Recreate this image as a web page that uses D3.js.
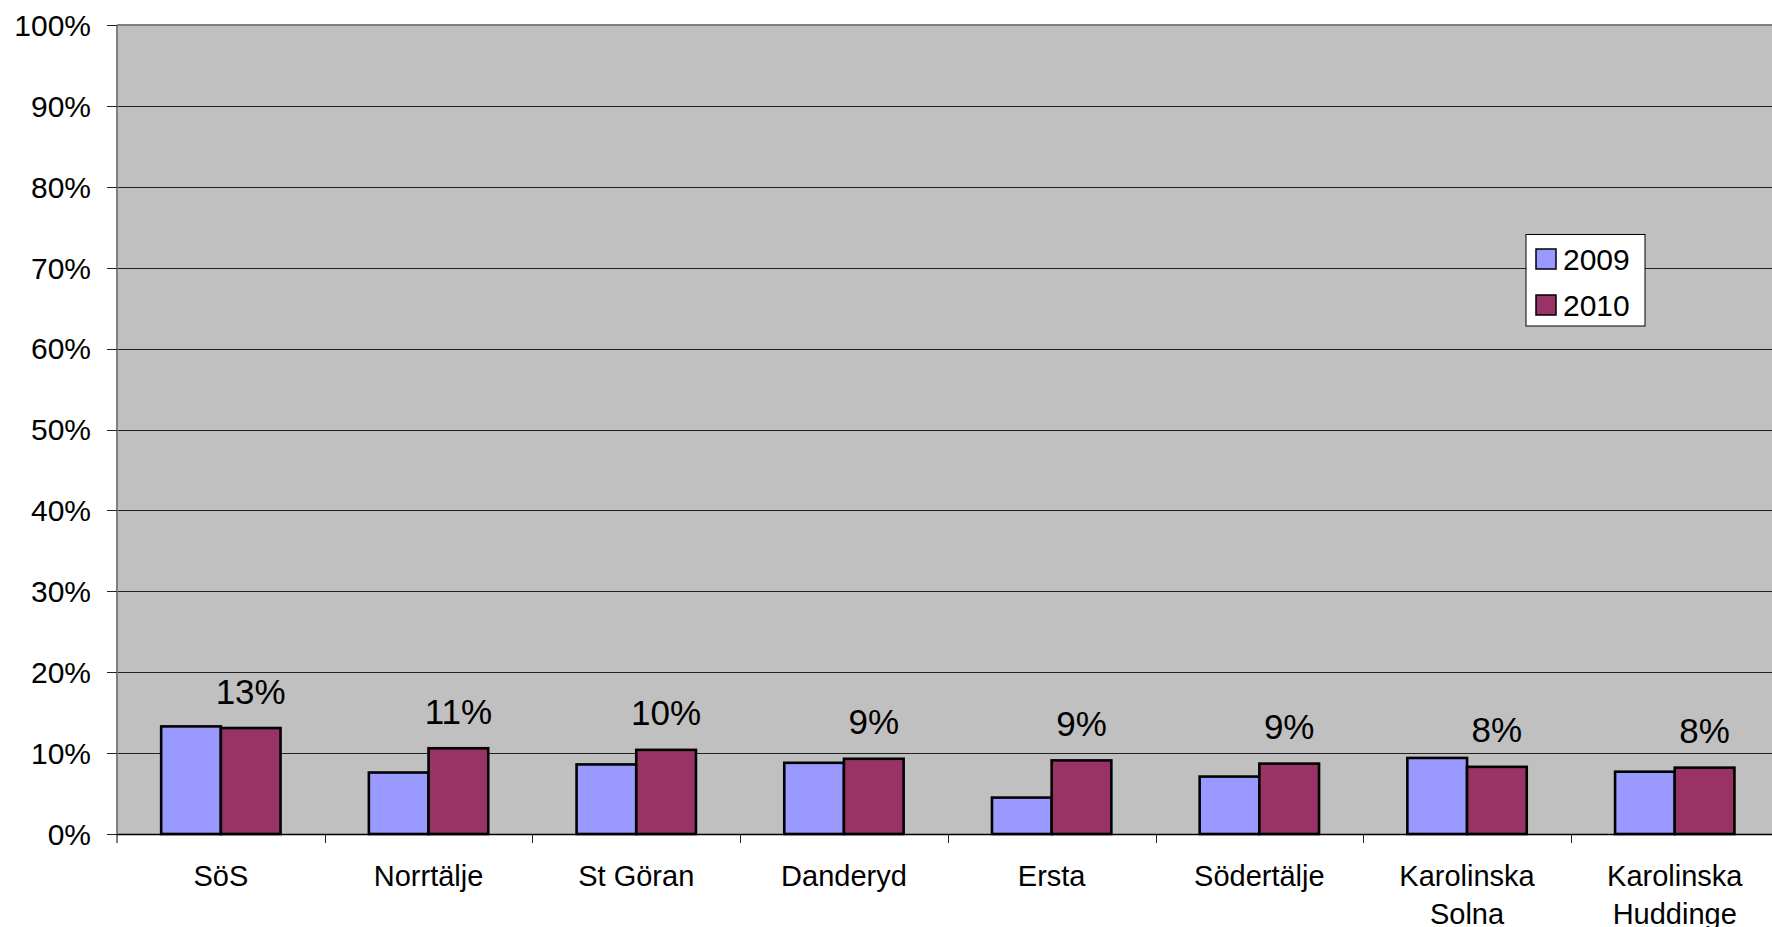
<!DOCTYPE html>
<html>
  <head>
    <meta charset='utf-8' />
    <title>Grouped bar chart</title>
    <script src="https://d3js.org/d3.v7.min.js"></script>
    <style>
body {
  margin: 0;
  background: #fff;
  font-family: Arial, "Liberation Sans", sans-serif;
}
.tick-label { font-size: 30px; fill: #000; }
.cat-label { font-size: 29px; fill: #000; }
.value-label { font-size: 35px; fill: #000; }
.legend-label { font-size: 30px; fill: #000; }
    </style>
  </head>
  <body>
    <div id="graphic"></div>
    <script>
      // chart data
      const categories = ["SöS", "Norrtälje", "St Göran", "Danderyd", "Ersta", "Södertälje", "Karolinska Solna", "Karolinska Huddinge"];
      const series = ["2009", "2010"];
      const values2009 = [0.133, 0.076, 0.086, 0.088, 0.045, 0.071, 0.094, 0.077];
      const values2010 = [0.131, 0.106, 0.104, 0.093, 0.091, 0.087, 0.083, 0.082];
      const valueLabels = ["13%", "11%", "10%", "9%", "9%", "9%", "8%", "8%"];
      const yTicks = [0, 0.1, 0.2, 0.3, 0.4, 0.5, 0.6, 0.7, 0.8, 0.9, 1];
      const colors = ["#9999FF", "#993366"];

      const W = 1772, H = 927;
      const plotLeft = 117, plotTop = 25, plotBottom = 834, bandW = 207.7;
      const plotRight = plotLeft + bandW * categories.length;

      const svg = d3.select("#graphic").append("svg")
        .attr("width", W)
        .attr("height", H);

      const x = d3.scaleBand()
        .domain(categories)
        .range([plotLeft, plotRight])
        .padding(0);

      const xs = d3.scaleBand()
        .domain(series)
        .range([0, x.bandwidth()])
        .paddingInner(0)
        .paddingOuter(0.74);

      const y = d3.scaleLinear()
        .domain([0, 1])
        .range([plotBottom, plotTop]);

      // plot area
      svg.append("rect")
        .attr("x", plotLeft)
        .attr("y", plotTop)
        .attr("width", plotRight - plotLeft)
        .attr("height", plotBottom - plotTop)
        .attr("fill", "#C0C0C0");

      // gridlines
      svg.append("g")
        .selectAll("line")
        .data(yTicks.slice(1, -1))
        .join("line")
        .attr("x1", plotLeft)
        .attr("x2", plotRight)
        .attr("y1", d => Math.round(y(d)) + 0.5)
        .attr("y2", d => Math.round(y(d)) + 0.5)
        .attr("stroke", "#222")
        .attr("stroke-width", 1);

      // plot border (top + left grey)
      svg.append("line")
        .attr("x1", plotLeft).attr("x2", plotRight)
        .attr("y1", y(1)).attr("y2", y(1))
        .attr("stroke", "#808080").attr("stroke-width", 2);
      svg.append("line")
        .attr("x1", plotLeft).attr("x2", plotLeft)
        .attr("y1", y(1)).attr("y2", plotBottom + 9)
        .attr("stroke", "#808080").attr("stroke-width", 2);

      // y axis ticks and labels
      const yAxis = svg.append("g");
      yAxis.selectAll("line")
        .data(yTicks)
        .join("line")
        .attr("x1", plotLeft - 10)
        .attr("x2", plotLeft)
        .attr("y1", d => Math.round(y(d)) + 0.5)
        .attr("y2", d => Math.round(y(d)) + 0.5)
        .attr("stroke", "#222");
      yAxis.selectAll("text")
        .data(yTicks)
        .join("text")
        .attr("class", "tick-label")
        .attr("x", 91)
        .attr("y", d => y(d))
        .attr("dy", "0.36em")
        .attr("text-anchor", "end")
        .text(d => d3.format(".0%")(d));

      // bars
      const bars = svg.append("g")
        .selectAll("g")
        .data(categories)
        .join("g")
        .attr("transform", d => "translate(" + x(d) + ",0)");

      bars.selectAll("rect")
        .data((d, i) => [values2009[i], values2010[i]].map((v, j) => ({ s: series[j], v: v, j: j })))
        .join("rect")
        .attr("x", d => xs(d.s))
        .attr("y", d => y(d.v))
        .attr("width", xs.bandwidth())
        .attr("height", d => plotBottom - y(d.v))
        .attr("fill", d => colors[d.j])
        .attr("stroke", "#000")
        .attr("stroke-width", 2.6);

      // x axis line + ticks
      svg.append("line")
        .attr("x1", plotLeft).attr("x2", plotRight)
        .attr("y1", plotBottom + 0.5).attr("y2", plotBottom + 0.5)
        .attr("stroke", "#000").attr("stroke-width", 1.5);
      svg.append("g")
        .selectAll("line")
        .data(categories.slice(1))
        .join("line")
        .attr("x1", d => Math.round(x(d)) + 0.5)
        .attr("x2", d => Math.round(x(d)) + 0.5)
        .attr("y1", plotBottom)
        .attr("y2", plotBottom + 9)
        .attr("stroke", "#222");

      // category labels (Karolinska names wrap onto two lines)
      svg.append("g")
        .selectAll("text")
        .data(categories)
        .join("text")
        .attr("class", "cat-label")
        .attr("text-anchor", "middle")
        .attr("y", 886)
        .each(function(d) {
          const parts = d.startsWith("Karolinska") ? ["Karolinska", d.slice(11)] : [d];
          const cx = x(d) + x.bandwidth() / 2;
          d3.select(this).selectAll("tspan")
            .data(parts)
            .join("tspan")
            .attr("x", cx)
            .attr("dy", (p, k) => k === 0 ? 0 : 38)
            .text(p => p);
        });

      // value labels over the 2010 bars
      svg.append("g")
        .selectAll("text")
        .data(categories)
        .join("text")
        .attr("class", "value-label")
        .attr("text-anchor", "middle")
        .attr("x", d => x(d) + xs("2010") + xs.bandwidth() / 2)
        .attr("y", (d, i) => y(values2010[i]) - 24.5)
        .text((d, i) => valueLabels[i]);

      // legend
      const legend = svg.append("g");
      legend.append("rect")
        .attr("x", 1526)
        .attr("y", 234.5)
        .attr("width", 119)
        .attr("height", 91.5)
        .attr("fill", "#fff")
        .attr("stroke", "#000")
        .attr("stroke-width", 1);
      const items = legend.selectAll("g")
        .data(series)
        .join("g")
        .attr("transform", (d, i) => "translate(1536," + (249 + i * 46) + ")");
      items.append("rect")
        .attr("width", 20)
        .attr("height", 20)
        .attr("fill", (d, i) => colors[i])
        .attr("stroke", "#000")
        .attr("stroke-width", 1.5);
      items.append("text")
        .attr("class", "legend-label")
        .attr("x", 27)
        .attr("y", 21)
        .text(d => d);
    </script>
  </body>
</html>
